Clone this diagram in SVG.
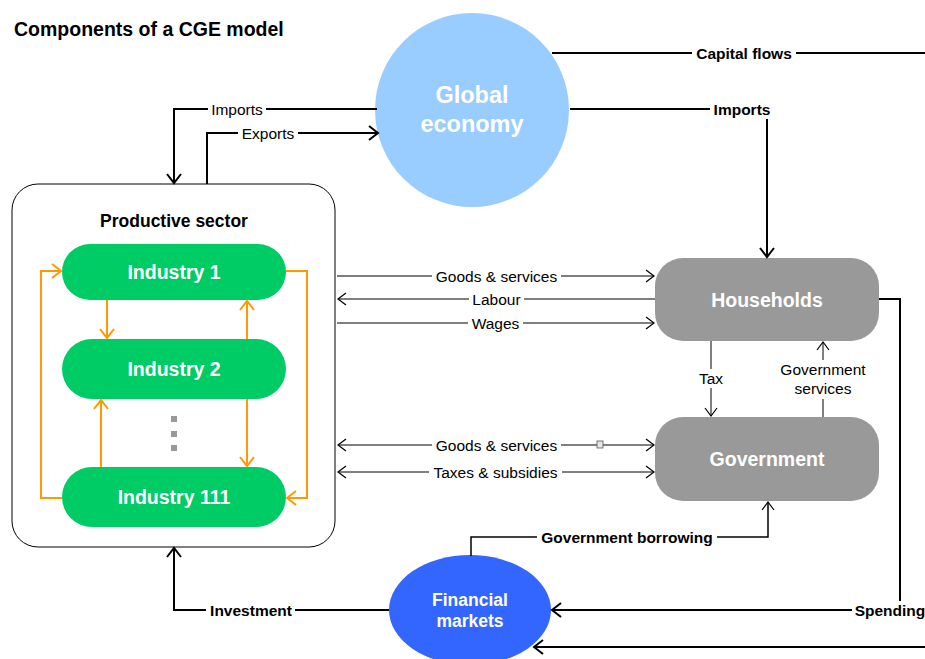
<svg xmlns="http://www.w3.org/2000/svg" width="925" height="659" viewBox="0 0 925 659">
<style>
text{font-family:"Liberation Sans",Arial,sans-serif;text-anchor:middle}
.t{font-size:19.5px;font-weight:bold;fill:#fff}
.lb{font-size:15.5px;fill:#000}
.lbb{font-size:15.5px;font-weight:bold;fill:#000}
.k2{fill:none;stroke:#000;stroke-width:2}
.k1{fill:none;stroke:#000;stroke-width:1}
.k15{fill:none;stroke:#000;stroke-width:1.5}
.o{fill:none;stroke:#FF9900;stroke-width:2;marker-end:url(#ao)}
.bg{fill:#fff}
</style>
<defs>
<marker id="a2" markerUnits="userSpaceOnUse" markerWidth="20" markerHeight="20" refX="0" refY="0" viewBox="-12 -10 14 20" orient="auto-start-reverse" overflow="visible"><path d="M-9,-7 L0,0 L-9,7" fill="none" stroke="#000" stroke-width="2"/></marker>
<marker id="a1" markerUnits="userSpaceOnUse" markerWidth="20" markerHeight="20" refX="0" refY="0" viewBox="-12 -10 14 20" orient="auto-start-reverse" overflow="visible"><path d="M-8,-6 L0,0 L-8,6" fill="none" stroke="#000" stroke-width="1.2"/></marker>
<marker id="ao" markerUnits="userSpaceOnUse" markerWidth="20" markerHeight="20" refX="0" refY="0" viewBox="-12 -10 14 20" orient="auto" overflow="visible"><path d="M-9,-7 L0,0 L-9,7" fill="none" stroke="#FF9900" stroke-width="2"/></marker>
</defs>
<rect width="925" height="659" fill="#fff"/>
<text x="14" y="36" style="text-anchor:start;font-size:19.5px;font-weight:bold">Components of a CGE model</text>

<g id="productive-sector">
<rect x="12" y="184" width="323" height="363" rx="26" fill="#fff" stroke="#000" stroke-width="1"/>
<text x="174" y="227" style="font-size:17.5px;font-weight:bold">Productive sector</text>
</g>
<g id="industry-1"><rect x="62" y="244" width="224" height="56" rx="28" fill="#00CC66"/><text class="t" x="174" y="279">Industry 1</text></g>
<g id="industry-2"><rect x="62" y="339" width="224" height="60" rx="30" fill="#00CC66"/><text class="t" x="174" y="376">Industry 2</text></g>
<g id="industry-111"><rect x="62" y="467" width="224" height="60" rx="30" fill="#00CC66"/><text class="t" x="174" y="504">Industry 111</text></g>
<g id="ellipsis" fill="#999999"><rect x="171" y="416" width="6" height="6"/><rect x="171" y="431" width="6" height="6"/><rect x="171" y="445" width="6" height="6"/></g>

<g id="global-economy"><circle cx="472" cy="110" r="97" fill="#99CCFF"/><text x="472" y="103" style="font-size:23.5px;font-weight:bold;fill:#fff">Global</text><text x="472" y="132" style="font-size:23.5px;font-weight:bold;fill:#fff">economy</text></g>
<g id="households"><rect x="655" y="258" width="224" height="83" rx="28" fill="#999999"/><text class="t" x="767" y="307">Households</text></g>
<g id="government"><rect x="655" y="417" width="224" height="84" rx="28" fill="#999999"/><text class="t" x="767" y="466">Government</text></g>
<g id="financial-markets"><ellipse cx="470" cy="610" rx="81" ry="55" fill="#3366FF"/><text x="470" y="606" style="font-size:17.5px;font-weight:bold;fill:#fff">Financial</text><text x="470" y="627" style="font-size:17.5px;font-weight:bold;fill:#fff">markets</text></g>

<g id="connectors">
<!-- orange internal flows -->
<path class="o" d="M107,300 V338"/>
<path class="o" d="M247,339 V301"/>
<path class="o" d="M247,399 V466"/>
<path class="o" d="M101,467 V400"/>
<path class="o" d="M62,498 H41 V271 H61"/>
<path class="o" d="M286,271 H307 V498 H287"/>

<!-- global economy links -->
<path class="k2" d="M552,53 H925"/>
<path class="k2" d="M570,109 H767 V257" marker-end="url(#a2)"/>
<path class="k2" d="M377,109 H174 V183" marker-end="url(#a2)"/>
<path class="k2" d="M207,184 V133 H378" marker-end="url(#a2)"/>

<!-- productive sector <-> households -->
<path class="k1" d="M337,276 H654" marker-end="url(#a1)"/>
<path class="k1" d="M655,299 H338" marker-end="url(#a1)"/>
<path class="k1" d="M337,323 H654" marker-end="url(#a1)"/>
<!-- productive sector <-> government -->
<path class="k1" d="M338,445 H654" marker-start="url(#a1)" marker-end="url(#a1)"/>
<path class="k1" d="M338,472 H654" marker-start="url(#a1)" marker-end="url(#a1)"/>

<!-- households <-> government -->
<path class="k1" d="M711,341 V416" marker-end="url(#a1)"/>
<path class="k1" d="M823,417 V342" marker-end="url(#a1)"/>

<!-- spending, borrowing, investment -->
<path class="k2" d="M879,299 H900 V610 H552" marker-end="url(#a2)"/>
<path class="k2" d="M925,647 H534" marker-end="url(#a2)"/>
<path class="k15" d="M471,556 V537 H768 V502" marker-end="url(#a1)"/>
<path class="k2" d="M389,610 H174 V548" marker-end="url(#a2)"/>

<!-- label backgrounds -->
<rect class="bg" x="692" y="44" width="104" height="18"/>
<rect class="bg" x="710" y="100" width="64" height="19"/>
<rect class="bg" x="208" y="100" width="58" height="18"/>
<rect class="bg" x="238" y="124" width="60" height="18"/>
<rect class="bg" x="432" y="267" width="129" height="18"/>
<rect class="bg" x="469" y="290" width="55" height="18"/>
<rect class="bg" x="468" y="314" width="55" height="18"/>
<rect class="bg" x="432" y="436" width="129" height="18"/>
<rect class="bg" x="429" y="463" width="133" height="18"/>
<rect class="bg" x="696" y="369" width="30" height="19"/>
<rect class="bg" x="776" y="360" width="94" height="39"/>
<rect class="bg" x="537" y="528" width="180" height="18"/>
<rect class="bg" x="206" y="601" width="89" height="18"/>
<rect class="bg" x="852" y="601" width="73" height="18"/>
<rect x="597" y="441" width="6" height="7" fill="#e6e6e6" stroke="#555" stroke-width="0.8"/>

<!-- labels -->
<text class="lbb" x="744" y="58.5">Capital flows</text>
<text class="lbb" x="742" y="114.5">Imports</text>
<text class="lb" x="237" y="114.5">Imports</text>
<text class="lb" x="268" y="138.5">Exports</text>
<text class="lb" x="496.5" y="281.5">Goods &amp; services</text>
<text class="lb" x="496.5" y="304.5">Labour</text>
<text class="lb" x="495.5" y="328.5">Wages</text>
<text class="lb" x="496.5" y="450.5">Goods &amp; services</text>
<text class="lb" x="495.5" y="477.5">Taxes &amp; subsidies</text>
<text class="lb" x="711" y="383.5">Tax</text>
<text class="lb" x="823" y="374.5">Government</text>
<text class="lb" x="823" y="393.5">services</text>
<text class="lbb" x="627" y="542.5">Government borrowing</text>
<text class="lbb" x="251" y="615.5">Investment</text>
<text class="lbb" x="890" y="615.5">Spending</text>
</g>
</svg>
